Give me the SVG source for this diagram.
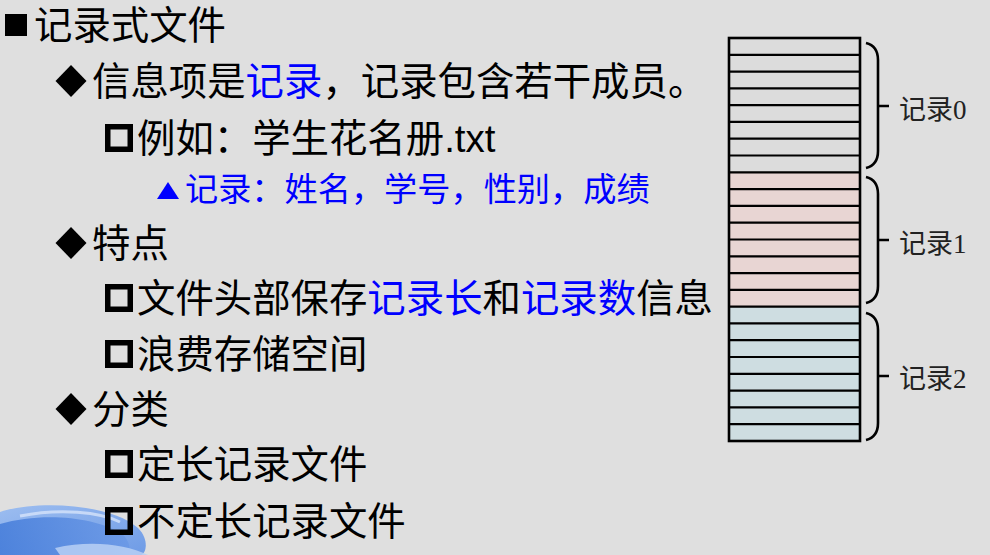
<svg xmlns="http://www.w3.org/2000/svg" width="990" height="555" viewBox="0 0 990 555">
<style>
.t{font-family:"Liberation Sans","Noto Sans CJK SC",sans-serif;font-size:38.4px;fill:#000}
.b{fill:#0000FF}
.s{font-size:33.2px}
.lbl{font-family:"Liberation Serif","Noto Sans CJK SC",serif;font-size:27px;fill:#222}
.row{stroke:#000;stroke-width:2.2}
.brace{fill:none;stroke:#000;stroke-width:2.6;stroke-linecap:butt}
.hol{fill:none;stroke:#000;stroke-width:5.5}
</style>
<defs>
<linearGradient id="g1" x1="0" y1="0" x2="1" y2="1">
<stop offset="0" stop-color="#9CBDF0"/>
<stop offset="1" stop-color="#6E9BE6"/>
</linearGradient>
<linearGradient id="g2" x1="0" y1="0" x2="1" y2="0">
<stop offset="0" stop-color="#3F78D8"/>
<stop offset="1" stop-color="#6A98E6"/>
</linearGradient>
</defs>
<rect width="990" height="555" fill="#DFDFDF"/>
<g id="decoration">
<path d="M0,512 C35,500 110,503 138,528 C150,540 146,555 140,555 L0,555 Z" fill="url(#g1)"/>
<path d="M0,524 C40,512 95,516 122,534 C132,542 130,555 128,555 L0,555 Z" fill="url(#g2)" opacity="0.8"/>
<path d="M20,516 C60,508 100,512 120,522" fill="none" stroke="#D6E4FA" stroke-width="3" opacity="0.8"/>
<path d="M55,548 C90,540 125,544 148,555 L60,555 Z" fill="#B9D0F5" opacity="0.85"/>
</g>
<g id="bullets">
<rect x="5" y="14" width="22" height="22" fill="#000"/>
<polygon points="71,65 86.5,81 71,97 55.5,81" fill="#000"/>
<polygon points="71,227 86.5,243 71,259 55.5,243" fill="#000"/>
<polygon points="71,393 86.5,409 71,425 55.5,409" fill="#000"/>
<rect class="hol" x="107.75" y="126.75" width="22.5" height="22.5"/>
<rect class="hol" x="107.75" y="286.75" width="22.5" height="22.5"/>
<rect class="hol" x="107.75" y="342.75" width="22.5" height="22.5"/>
<rect class="hol" x="107.75" y="452.75" width="22.5" height="22.5"/>
<rect class="hol" x="107.75" y="509.75" width="22.5" height="22.5"/>
<polygon points="168,182 179,199 157,199" fill="#0000FF"/>
</g>
<g id="text">
<text class="t" x="34" y="39">记录式文件</text>
<text class="t" x="92" y="95">信息项是<tspan class="b">记录</tspan>，记录包含若干成员。</text>
<text class="t" x="137" y="152">例如：学生花名册.txt</text>
<text class="t s b" x="185" y="201">记录：姓名，学号，性别，成绩</text>
<text class="t" x="92" y="257">特点</text>
<text class="t" x="137" y="312">文件头部保存<tspan class="b">记录长</tspan>和<tspan class="b">记录数</tspan>信息</text>
<text class="t" x="137" y="368">浪费存储空间</text>
<text class="t" x="92" y="423">分类</text>
<text class="t" x="137" y="478">定长记录文件</text>
<text class="t" x="137" y="535">不定长记录文件</text>
</g>
<g id="record0">
<rect x="729" y="38" width="131" height="134.3" fill="#DCDCDC"/>
</g>
<g id="record1">
<rect x="729" y="172.3" width="131" height="134.4" fill="#E8D5D3"/>
</g>
<g id="record2">
<rect x="729" y="306.7" width="131" height="134.3" fill="#CEDDE1"/>
</g>
<g id="rows">
<path class="row" d="M729,54.8H860M729,71.6H860M729,88.4H860M729,105.2H860M729,121.9H860M729,138.7H860M729,155.5H860M729,172.3H860M729,189.1H860M729,205.9H860M729,222.7H860M729,239.5H860M729,256.3H860M729,273.1H860M729,289.9H860M729,306.7H860M729,323.4H860M729,340.2H860M729,357H860M729,373.8H860M729,390.6H860M729,407.4H860M729,424.2H860"/>
<rect x="729" y="38" width="131" height="403" fill="none" stroke="#000" stroke-width="2.6"/>
</g>
<g id="connectors">
<path class="brace" d="M866,43 Q878,46 878,60 L878,151 Q878,165 866,168 M878,106 H889"/>
<path class="brace" d="M866,177 Q878,180 878,194 L878,286 Q878,300 866,303 M878,240 H889"/>
<path class="brace" d="M866,313 Q878,316 878,330 L878,423 Q878,437 866,440 M878,376 H889"/>
</g>
<g id="labels">
<text class="lbl" x="899" y="119">记录0</text>
<text class="lbl" x="899" y="253">记录1</text>
<text class="lbl" x="899" y="388">记录2</text>
</g>
</svg>
